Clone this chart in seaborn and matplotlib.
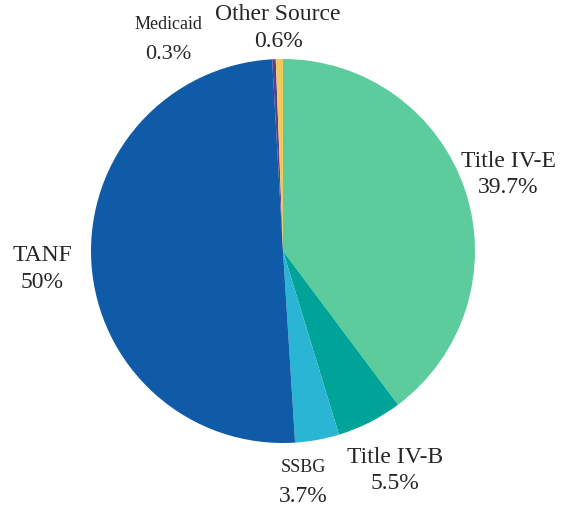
import seaborn as sns
import matplotlib
matplotlib.use('Agg')
import matplotlib.pyplot as plt

# funding sources, clockwise from top
sources = ['Title IV-E', 'Title IV-B', 'SSBG', 'TANF', 'Medicaid', 'Other Source']
shares = [39.7, 5.5, 3.7, 50.0, 0.3, 0.6]
pct_labels = ['39.7%', '5.5%', '3.7%', '50%', '0.3%', '0.6%']
colors = ['#5ccc9c', '#00a398', '#29b5d3', '#0f5ba8', '#5b3f8c', '#efc95a']

sns.set_theme(style='white')
plt.rcParams['font.family'] = ['Liberation Serif', 'DejaVu Serif']

fig = plt.figure(figsize=(5.81, 5.10), dpi=100)
cx, cy, r = 283, 252, 192
ax = fig.add_axes([(cx - r) / 581, (510 - cy - r) / 510, 2 * r / 581, 2 * r / 510])
ax.pie(shares, colors=colors, startangle=90, counterclock=False,
       wedgeprops={'linewidth': 0})
ax.set_aspect('equal')
ax.set_xlim(-1, 1)
ax.set_ylim(-1, 1)
ax.axis('off')

# label placement in pixels: (name x, name y, pct y, name size, pct size)
spots = [(508, 162, 188, 17, 17),
         (395, 458, 484, 17, 17),
         (303, 468, 497, 13, 17),
         (42, 256, 283, 17, 17),
         (168, 25, 55, 13, 16),
         (278, 15, 42, 17, 17)]

def px(x, y):
    return (x - cx) / r, (cy - y) / r

for name, pct, (x, ny, py, ns, ps) in zip(sources, pct_labels, spots):
    ax.text(*px(x, ny), name, ha='center', va='center', fontsize=ns, clip_on=False)
    ax.text(*px(x, py), pct, ha='center', va='center', fontsize=ps, clip_on=False)

fig.savefig('out.png', dpi=100)
